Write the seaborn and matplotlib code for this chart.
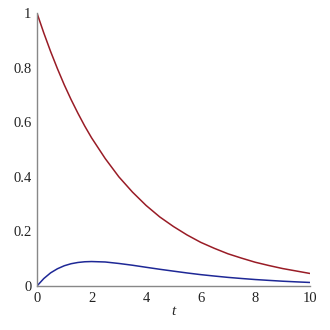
import matplotlib
matplotlib.use("Agg")
import matplotlib.pyplot as plt
from matplotlib.ticker import MultipleLocator
import seaborn as sns
import pandas as pd

t_vals = [0, 0.25, 0.5, 0.75, 1, 1.25, 1.5, 1.75, 2, 2.5, 3, 3.5, 4, 4.5, 5,
          5.5, 6, 6.5, 7, 7.5, 8, 8.5, 9, 9.5, 10]
red_vals = [1.0, 0.927, 0.859, 0.796, 0.737, 0.683, 0.633, 0.586, 0.543, 0.467,
            0.400, 0.344, 0.295, 0.253, 0.218, 0.187, 0.160, 0.138, 0.118,
            0.102, 0.087, 0.075, 0.064, 0.055, 0.046]
blue_vals = [0.0, 0.0273, 0.0482, 0.0632, 0.0742, 0.0816, 0.0862, 0.0888, 0.0896,
             0.0880, 0.0826, 0.0761, 0.0686, 0.0613, 0.0545, 0.0478, 0.0417,
             0.0365, 0.0316, 0.0275, 0.0237, 0.0206, 0.0176, 0.0152, 0.0130]

df = pd.DataFrame({
    "t": t_vals * 2,
    "value": red_vals + blue_vals,
    "series": ["red"] * len(t_vals) + ["blue"] * len(t_vals),
})

sns.set_style("white")
plt.rcParams["font.family"] = ["Liberation Serif", "DejaVu Serif"]

fig = plt.figure(figsize=(3.3, 3.3), dpi=100)
ax = fig.add_axes([0.112, 0.1333, 0.827, 0.8273])

sns.lineplot(data=df, x="t", y="value", hue="series",
             palette={"red": "#991C26", "blue": "#1E2896"},
             linewidth=1.1, legend=False, ax=ax)

ax.set_xlim(0, 10)
ax.set_ylim(0, 1)
ax.xaxis.set_major_locator(MultipleLocator(2))
ax.xaxis.set_minor_locator(MultipleLocator(1))
ax.yaxis.set_major_locator(MultipleLocator(0.2))
ax.yaxis.set_minor_locator(MultipleLocator(0.1))
ax.set_xticks([0, 2, 4, 6, 8, 10])
ax.set_xticklabels(["0", "2", "4", "6", "8", "10"])
ax.set_yticks([0, 0.2, 0.4, 0.6, 0.8, 1.0])
ax.set_yticklabels(["0", "0.2", "0.4", "0.6", "0.8", "1"])

for s in ["top", "right"]:
    ax.spines[s].set_visible(False)
for s in ["left", "bottom"]:
    ax.spines[s].set_color("#888888")
    ax.spines[s].set_linewidth(1.0)

ax.tick_params(which="major", direction="inout", length=4, width=0.8,
               color="#555555", labelsize=10.5, pad=2)
ax.tick_params(which="minor", direction="inout", length=3, width=0.8,
               color="#555555")
ax.tick_params(axis="both", which="both", labelcolor="#222222")

ax.set_xlabel("t", fontstyle="italic", fontsize=11, labelpad=0)
ax.set_ylabel("")
ax.grid(False)

fig.savefig("out.png", dpi=100)
